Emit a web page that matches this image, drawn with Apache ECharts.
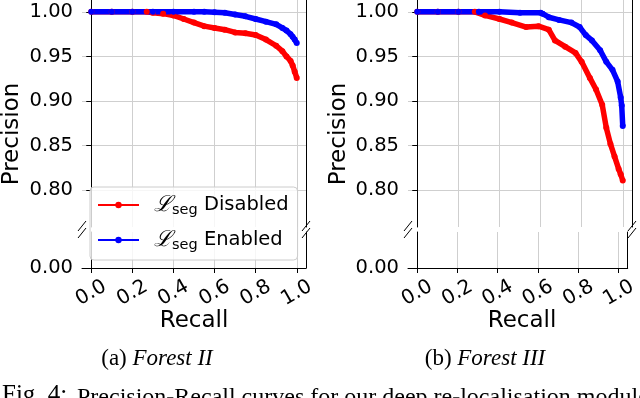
<!DOCTYPE html>
<html>
<head>
<meta charset="utf-8">
<script src="https://cdn.jsdelivr.net/npm/echarts@6/dist/echarts.min.js"></script>
<style>
  html, body { margin: 0; padding: 0; background: #fff; }
  #chart { width: 640px; height: 398px; }
</style>
</head>
<body>
<div id="chart"></div>
<script>
  // (a) Forest II
  var recallRedA = [0, 0.1, 0.2, 0.27, 0.3, 0.35, 0.4, 0.45, 0.5, 0.55, 0.6, 0.65, 0.7, 0.75, 0.8, 0.85, 0.9, 0.93, 0.95, 0.97, 0.98, 0.99, 1.0];
  var precRedA = [1, 1, 1, 1, 0.999, 0.998, 0.996, 0.992, 0.988, 0.984, 0.982, 0.98, 0.977, 0.976, 0.974, 0.969, 0.962, 0.956, 0.95, 0.945, 0.94, 0.933, 0.926];
  var recallBlueA = [0, 0.1, 0.2, 0.3, 0.4, 0.5, 0.55, 0.6, 0.65, 0.7, 0.75, 0.8, 0.85, 0.9, 0.93, 0.95, 0.97, 0.98, 0.99, 1.0];
  var precBlueA = [1, 1, 1, 1, 1, 1, 1, 0.9995, 0.999, 0.997, 0.995, 0.992, 0.989, 0.986, 0.982, 0.979, 0.975, 0.972, 0.969, 0.965];

  // (b) Forest III
  var recallRedB = [0, 0.1, 0.2, 0.28, 0.33, 0.4, 0.46, 0.53, 0.59, 0.64, 0.67, 0.72, 0.77, 0.8, 0.84, 0.87, 0.9, 0.92, 0.94, 0.96, 0.98, 0.99, 1.0];
  var precRedB = [1, 1, 1, 1, 0.996, 0.992, 0.988, 0.983, 0.984, 0.98, 0.968, 0.961, 0.954, 0.944, 0.926, 0.913, 0.896, 0.87, 0.852, 0.838, 0.824, 0.818, 0.811];
  var recallBlueB = [0, 0.1, 0.2, 0.3, 0.4, 0.5, 0.6, 0.61, 0.64, 0.69, 0.75, 0.79, 0.82, 0.85, 0.89, 0.92, 0.95, 0.975, 0.99, 0.995, 1.0];
  var precBlueB = [1, 1, 1, 1, 1, 0.999, 0.999, 0.998, 0.994, 0.991, 0.988, 0.983, 0.974, 0.968, 0.957, 0.944, 0.935, 0.922, 0.904, 0.895, 0.872];

  var xTicks = [0, 0.2, 0.4, 0.6, 0.8, 1.0];
  var yTicksTop = [0.8, 0.85, 0.9, 0.95, 1.0];
  var yTicksBottom = [0];
  var seriesNames = ['Disabled', 'Enabled'];

  function pairs(xs, ys) {
    var out = [];
    for (var i = 0; i < xs.length; i++) out.push([xs[i], ys[i]]);
    return out;
  }

  var font = 'DejaVu Sans';
  var gridColor = '#cfcfcf';
  var topY = -2, breakTop = 227, breakBottom = 232, bottomY = 268;
  var plotsLeft = [82, 408];
  var plotW = 224;

  var grids = [], xAxes = [], yAxes = [], series = [], graphics = [];

  plotsLeft.forEach(function (left, p) {
    grids.push({ left: left, top: topY, width: plotW, height: breakTop - topY });
    grids.push({ left: left, top: breakBottom, width: plotW, height: bottomY - breakBottom });

    // top panel x axis (grid lines only)
    xAxes.push({
      type: 'value', gridIndex: 2 * p, min: -0.045, max: 1.045,
      axisLine: { show: false },
      axisTick: { show: false, customValues: xTicks },
      axisLabel: { show: false, customValues: xTicks },
      splitLine: { show: true, lineStyle: { color: gridColor, width: 1 } }
    });
    // bottom panel x axis
    xAxes.push({
      type: 'value', gridIndex: 2 * p + 1, min: -0.045, max: 1.045,
      axisLine: { show: true, onZero: false, lineStyle: { color: '#000', width: 1 } },
      axisTick: { show: true, length: 5, customValues: xTicks, lineStyle: { color: '#000' } },
      axisLabel: {
        customValues: xTicks, rotate: 30, margin: 25, align: 'center', verticalAlign: 'middle',
        fontFamily: font, fontSize: 20, color: '#000',
        formatter: function (v) { return v.toFixed(1); }
      },
      splitLine: { show: true, lineStyle: { color: gridColor, width: 1 } }
    });

    // left y axes
    yAxes.push({
      type: 'value', gridIndex: 2 * p, min: 0.7589, max: 1.0133,
      axisLine: { show: true, lineStyle: { color: '#000', width: 1 } },
      axisTick: { show: true, length: 5, customValues: yTicksTop, lineStyle: { color: '#000' } },
      axisLabel: {
        customValues: yTicksTop, margin: 9, fontFamily: font, fontSize: 19.5, color: '#000',
        formatter: function (v) { return v.toFixed(2); }
      },
      splitLine: { show: true, lineStyle: { color: gridColor, width: 1 } }
    });
    yAxes.push({
      type: 'value', gridIndex: 2 * p + 1, min: 0, max: 0.04,
      axisLine: { show: true, lineStyle: { color: '#000', width: 1 } },
      axisTick: { show: true, length: 5, customValues: yTicksBottom, lineStyle: { color: '#000' } },
      axisLabel: {
        customValues: yTicksBottom, margin: 9, fontFamily: font, fontSize: 19.5, color: '#000',
        formatter: function (v) { return v.toFixed(2); }
      },
      splitLine: { show: false }
    });
  });

  // right spines
  plotsLeft.forEach(function (left, p) {
    [[2 * p, 0.7589, 1.0133], [2 * p + 1, 0, 0.04]].forEach(function (g) {
      yAxes.push({
        type: 'value', gridIndex: g[0], position: 'right', min: g[1], max: g[2],
        axisLine: { show: true, lineStyle: { color: '#000', width: 1 } },
        axisTick: { show: false }, axisLabel: { show: false }, splitLine: { show: false }
      });
    });
  });

  function pr(name, color, data, p) {
    return {
      name: name, type: 'line', xAxisIndex: 2 * p, yAxisIndex: 2 * p,
      data: data, color: color, symbol: 'circle', symbolSize: 6, showSymbol: true,
      lineStyle: { width: 5.5, color: color }, itemStyle: { color: color },
      animation: false, silent: true
    };
  }
  series.push(pr('Disabled', '#ff0000', pairs(recallRedA, precRedA), 0));
  series.push(pr('Enabled', '#0000ff', pairs(recallBlueA, precBlueA), 0));
  series.push(pr('Disabled', '#ff0000', pairs(recallRedB, precRedB), 1));
  series.push(pr('Enabled', '#0000ff', pairs(recallBlueB, precBlueB), 1));

  // break marks
  [82, 306, 408, 632].forEach(function (sx) {
    [breakTop - 1, breakBottom + 1].forEach(function (cy) {
      graphics.push({
        type: 'line', shape: { x1: sx - 4, y1: cy + 5, x2: sx + 4, y2: cy - 5 },
        style: { stroke: '#000', lineWidth: 1 }, z: 100
      });
    });
  });

  // axis titles
  [[12, 134], [339, 134]].forEach(function (c) {
    graphics.push({
      type: 'text', x: c[0], y: c[1], rotation: Math.PI / 2,
      style: { text: 'Precision', fontFamily: font, fontSize: 23, fill: '#000', align: 'center', verticalAlign: 'middle' }
    });
  });
  [[194, 321], [522, 321]].forEach(function (c) {
    graphics.push({
      type: 'text', x: c[0], y: c[1],
      style: { text: 'Recall', fontFamily: font, fontSize: 23, fill: '#000', align: 'center', verticalAlign: 'middle' }
    });
  });

  // sub-captions
  var serif = 'Liberation Serif';
  [[157, '(a) ', 'Forest II'], [485, '(b) ', 'Forest III']].forEach(function (c) {
    graphics.push({
      type: 'text', x: c[0], y: 359,
      style: {
        text: '{n|' + c[1] + '}{i|' + c[2] + '}', align: 'center', verticalAlign: 'middle',
        rich: {
          n: { fontFamily: serif, fontSize: 23, fill: '#000' },
          i: { fontFamily: serif, fontSize: 23, fontStyle: 'italic', fill: '#000' }
        }
      }
    });
  });
  graphics.push({
    type: 'text', x: 2, y: 383,
    style: { text: 'Fig. 4:', fontFamily: serif, fontSize: 25, fill: '#000', align: 'left', verticalAlign: 'top' }
  });
  graphics.push({
    type: 'text', x: 77, y: 386,
    style: { text: 'Precision-Recall curves for our deep re-localisation module', fontFamily: serif, fontSize: 24, fill: '#000', align: 'left', verticalAlign: 'top' }
  });

  var chart = echarts.init(document.getElementById('chart'), null, { renderer: 'canvas' });
  chart.setOption({
    animation: false,
    backgroundColor: '#fff',
    grid: grids,
    xAxis: xAxes,
    yAxis: yAxes,
    legend: {
      data: seriesNames, orient: 'vertical', left: 90, top: 187,
      padding: [7, 9, 7, 7], itemGap: 11, itemWidth: 41, itemHeight: 8,
      backgroundColor: 'rgba(255,255,255,0.8)', borderColor: '#cccccc', borderWidth: 1, borderRadius: 4,
      formatter: function (name) { return '{l|\u2112}{s|seg}{t| ' + name + '}'; },
      textStyle: {
        padding: [0, 0, 0, 10],
        rich: {
          l: { fontFamily: 'DejaVu Serif', fontStyle: 'italic', fontSize: 22, color: '#000', lineHeight: 26, verticalAlign: 'middle' },
          s: { fontFamily: font, fontSize: 14.5, color: '#000', lineHeight: 14, verticalAlign: 'bottom' },
          t: { fontFamily: font, fontSize: 19.5, color: '#000', lineHeight: 26, verticalAlign: 'middle' }
        }
      }
    },
    series: series,
    graphic: graphics
  });
</script>
</body>
</html>
